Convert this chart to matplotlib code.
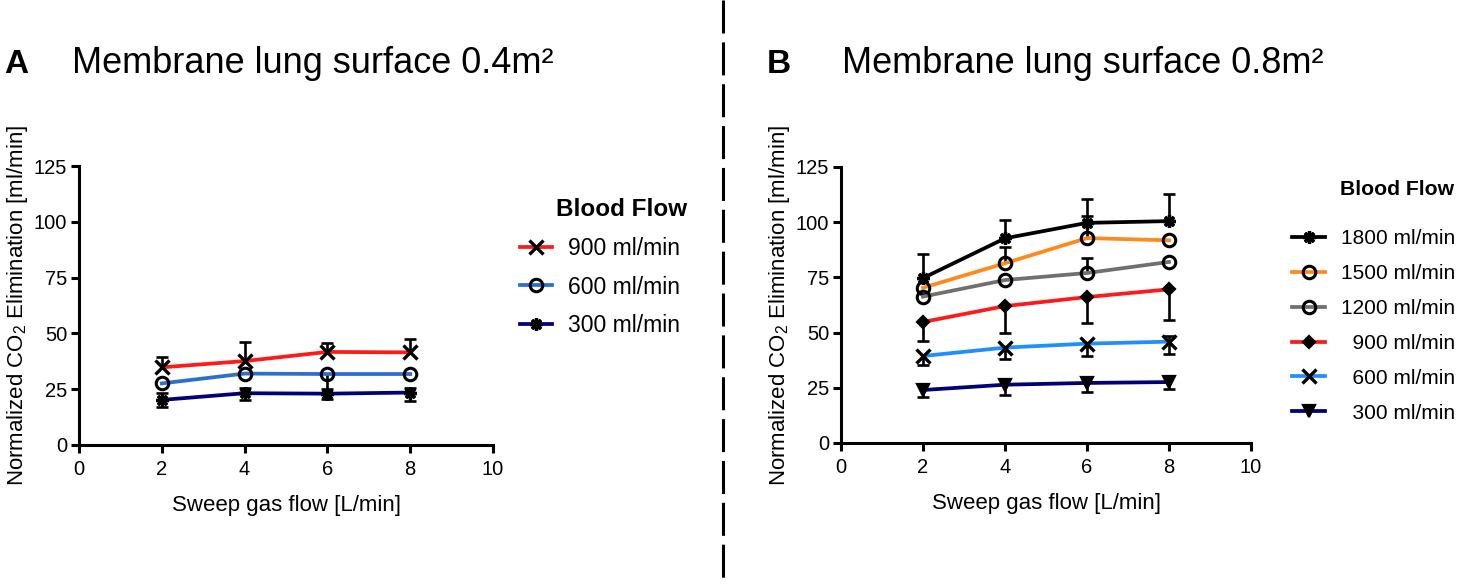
import numpy as np
import matplotlib
matplotlib.use("Agg")
import matplotlib.pyplot as plt
from matplotlib.lines import Line2D

plt.rcParams['font.family'] = ['Liberation Sans', 'DejaVu Sans']
plt.rcParams['mathtext.fontset'] = 'custom'
plt.rcParams['mathtext.rm'] = 'Liberation Sans'
plt.rcParams['mathtext.it'] = 'Liberation Sans:italic'
plt.rcParams['mathtext.bf'] = 'Liberation Sans:bold'

# ---------------- data ----------------
sweep = [2, 4, 6, 8]
x_ticks = [0, 2, 4, 6, 8, 10]
y_ticks = [0, 25, 50, 75, 100, 125]

# Panel A (0.4 m2)
a_labels = ["900 ml/min", "600 ml/min", "300 ml/min"]
a_900 = [34.8, 37.6, 41.7, 41.5]
a_600 = [27.6, 32.0, 31.8, 31.8]
a_300 = [20.2, 23.2, 23.0, 23.5]
a_900_up = [4.6, 8.4, 4.1, 6.1]
a_900_dn = [0, 0, 0, 0]
a_600_up = [0, 0, 0, 0]
a_600_dn = [0, 0, 8.5, 0]
a_300_up = [3.0, 2.5, 2.0, 2.0]
a_300_dn = [3.0, 3.0, 2.5, 3.6]

# Panel B (0.8 m2)
b_labels = ["1800 ml/min", "1500 ml/min", "1200 ml/min",
            "  900 ml/min", "  600 ml/min", "  300 ml/min"]
b_1800 = [74.7, 92.7, 99.7, 100.5]
b_1500 = [70.3, 81.4, 92.8, 91.8]
b_1200 = [66.3, 73.8, 77.0, 82.0]
b_900 = [54.8, 62.0, 66.1, 69.6]
b_600 = [39.4, 43.2, 45.0, 45.9]
b_300 = [24.0, 26.4, 27.2, 27.6]
b_1800_up = [11.0, 8.2, 10.7, 12.2]
b_1800_dn = [0, 0, 0, 0]
b_1500_up = [0, 7.2, 10.0, 0]
b_1500_dn = [0, 0, 0, 0]
b_1200_up = [0, 0, 7.0, 0]
b_1200_dn = [0, 0, 0, 0]
b_900_up = [0, 0, 0, 0]
b_900_dn = [8.6, 12.2, 11.8, 14.0]
b_600_up = [0, 0, 0, 2.5]
b_600_dn = [3.9, 5.0, 5.7, 5.7]
b_300_up = [0, 0, 0, 0]
b_300_dn = [3.0, 4.8, 4.1, 3.0]

# ---------------- styles ----------------
c_red = "#ff1a1a"
c_blueA = "#2c6fd1"
c_navy = "#00007a"
c_orange = "#ff8a1c"
c_gray = "#707070"
c_lblue = "#1e8fff"

FIG_W, FIG_H = 1459, 586
fig = plt.figure(figsize=(FIG_W / 100, FIG_H / 100), dpi=100)

def fx(px):
    return px / FIG_W

def fy(py):
    return 1 - py / FIG_H

axA = fig.add_axes([fx(79), fy(445), fx(493) - fx(79), fy(166) - fy(445)])
axB = fig.add_axes([fx(841), fy(443), fx(1251) - fx(841), fy(167) - fy(443)])

LW = 2.7
SPW = 2.2

def errs(ax, x, y, up, dn):
    x = np.asarray(x, float); y = np.asarray(y, float)
    up = np.asarray(up, float); dn = np.asarray(dn, float)
    m = (up > 0) | (dn > 0)
    if not m.any():
        return
    _, caps, _ = ax.errorbar(x[m], y[m], yerr=[dn[m], up[m]], fmt='none',
                             ecolor='black', elinewidth=1.9, capsize=4.5,
                             capthick=1.9, zorder=2, clip_on=False)
    lo, hi = caps
    lo_mask = dn[m] > 0; hi_mask = up[m] > 0
    lo.set_data(x[m][lo_mask], (y[m] - dn[m])[lo_mask])
    hi.set_data(x[m][hi_mask], (y[m] + up[m])[hi_mask])

def series(ax, x, y, color, marker, ms, label, mfc='black', mew=1.6):
    h, = ax.plot(x, y, color=color, lw=LW, marker=marker, ms=ms,
                 mfc=mfc, mec='black', mew=mew, zorder=3, label=label,
                 clip_on=False)
    return h

STAR = (8, 2, 0)

# Panel A
errs(axA, sweep, a_900, a_900_up, a_900_dn)
errs(axA, sweep, a_600, a_600_up, a_600_dn)
errs(axA, sweep, a_300, a_300_up, a_300_dn)
hA = [
    series(axA, sweep, a_900, c_red, 'x', 9.5, a_labels[0], mew=2.4),
    series(axA, sweep, a_600, c_blueA, 'o', 9, a_labels[1], mfc='none', mew=2.2),
    series(axA, sweep, a_300, c_navy, STAR, 9, a_labels[2], mew=2.4),
]

# Panel B
errs(axB, sweep, b_1800, b_1800_up, b_1800_dn)
errs(axB, sweep, b_1500, b_1500_up, b_1500_dn)
errs(axB, sweep, b_1200, b_1200_up, b_1200_dn)
errs(axB, sweep, b_900, b_900_up, b_900_dn)
errs(axB, sweep, b_600, b_600_up, b_600_dn)
errs(axB, sweep, b_300, b_300_up, b_300_dn)
hB = [
    series(axB, sweep, b_1800, 'black', STAR, 9, b_labels[0], mew=2.4),
    series(axB, sweep, b_1500, c_orange, 'o', 9, b_labels[1], mfc='none', mew=2.2),
    series(axB, sweep, b_1200, c_gray, 'o', 9, b_labels[2], mfc='none', mew=2.2),
    series(axB, sweep, b_900, c_red, 'D', 6, b_labels[3]),
    series(axB, sweep, b_600, c_lblue, 'x', 9.5, b_labels[4], mew=2.4),
    series(axB, sweep, b_300, c_navy, 'v', 8.5, b_labels[5]),
]

ylab = "Normalized CO$_2$ Elimination [ml/min]"
for ax in (axA, axB):
    ax.set_xlim(0, 10)
    ax.set_ylim(0, 125)
    ax.set_xticks(x_ticks)
    ax.set_yticks(y_ticks)
    for s in ('top', 'right'):
        ax.spines[s].set_visible(False)
    for s in ('left', 'bottom'):
        ax.spines[s].set_linewidth(SPW)
        ax.spines[s].set_capstyle('projecting')
    ax.tick_params(axis='both', direction='out', length=5.5, width=SPW,
                   labelsize=14.5, colors='black')
    ax.tick_params(axis='x', pad=5)
    ax.tick_params(axis='y', pad=3)
    ax.set_xlabel("Sweep gas flow [L/min]", fontsize=16, labelpad=12)
    ax.set_ylabel(ylab, fontsize=16, labelpad=3)
    ax.patch.set_alpha(0)

# Legends
legA = axA.legend(handles=hA, loc='center left',
                  bbox_to_anchor=(fx(520), fy(287)), bbox_transform=fig.transFigure,
                  frameon=False, borderpad=0, borderaxespad=0, fontsize=16.5,
                  handlelength=1.4, handletextpad=0.7, labelspacing=0.68,
                  numpoints=1)
legB = axB.legend(handles=hB, loc='center left',
                  bbox_to_anchor=(fx(1292), fy(326)), bbox_transform=fig.transFigure,
                  frameon=False, borderpad=0, borderaxespad=0, fontsize=15,
                  handlelength=1.6, handletextpad=0.75, labelspacing=0.76,
                  numpoints=1)
fig.text(fx(556), fy(210), "Blood Flow", fontsize=17.5, fontweight='bold',
         ha='left', va='center')
fig.text(fx(1340), fy(190), "Blood Flow", fontsize=15.2, fontweight='bold',
         ha='left', va='center')

# Titles
fig.text(fx(4), fy(73), "A", fontsize=24, fontweight='bold', ha='left', va='baseline')
fig.text(fx(72), fy(73), "Membrane lung surface 0.4m\u00b2", fontsize=26,
         ha='left', va='baseline')
fig.text(fx(767), fy(73), "B", fontsize=24, fontweight='bold', ha='left', va='baseline')
fig.text(fx(842), fy(73), "Membrane lung surface 0.8m\u00b2", fontsize=26,
         ha='left', va='baseline')

# Dashed divider
div = Line2D([fx(722.5), fx(722.5)], [1, 0], transform=fig.transFigure,
             color='black', lw=2.2)
div.set_dashes((10.8, 2.9))
fig.add_artist(div)

fig.savefig("out.png", dpi=100, facecolor='white')
